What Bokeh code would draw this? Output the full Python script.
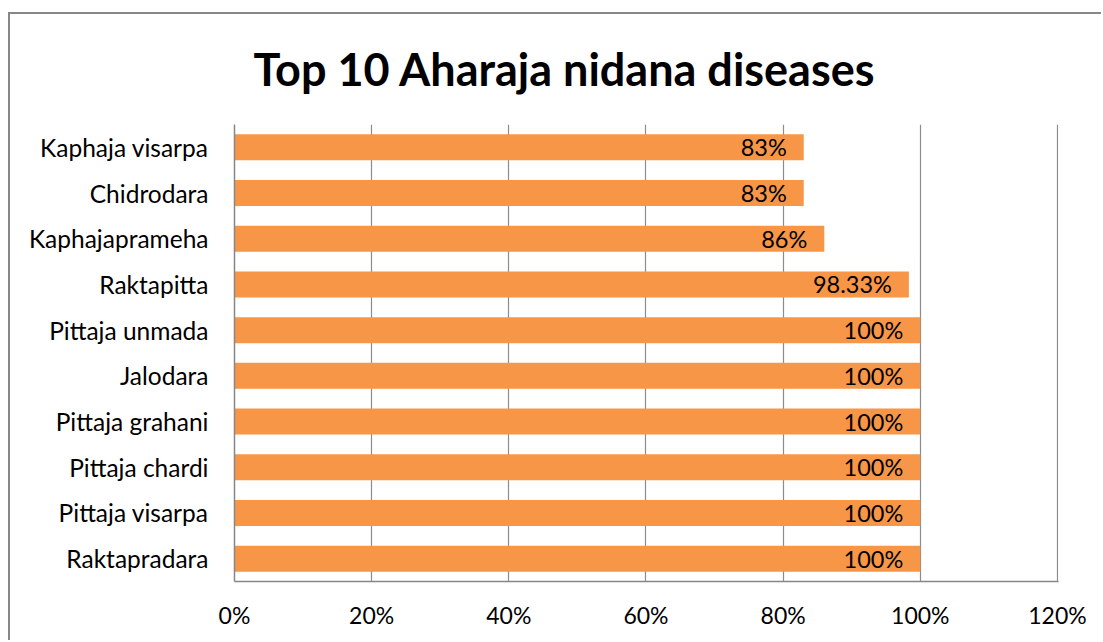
from bokeh.plotting import figure
from bokeh.models import (FactorRange, Range1d, NumeralTickFormatter, FixedTicker,
                          ColumnDataSource, Title)
from bokeh.core.properties import value
from bokeh.embed import file_html
from bokeh.resources import INLINE

# data (top to bottom as displayed)
diseases = ["Kaphaja visarpa", "Chidrodara", "Kaphajaprameha", "Raktapitta",
            "Pittaja unmada", "Jalodara", "Pittaja grahani", "Pittaja chardi",
            "Pittaja visarpa", "Raktapradara"]
shares = [0.83, 0.83, 0.86, 0.9833, 1.0, 1.0, 1.0, 1.0, 1.0, 1.0]
share_labels = ["83%", "83%", "86%", "98.33%", "100%", "100%", "100%", "100%", "100%", "100%"]
x_ticks = [0, 0.2, 0.4, 0.6, 0.8, 1.0, 1.2]
title_text = "Top 10 Aharaja nidana diseases"

FONT = "Lato"

src = ColumnDataSource(dict(cat=diseases, val=shares, lab=share_labels))

p = figure(width=1093, height=628, output_backend="svg", toolbar_location=None,
           y_range=FactorRange(factors=list(reversed(diseases)), range_padding=0),
           x_range=Range1d(0, 1.2015),
           min_border_left=224, min_border_right=45, min_border_top=110,
           min_border_bottom=61)
p.margin = (12, 0, 0, 8)
p.styles = {"border-left": "2px solid #878787", "border-top": "2px solid #878787"}
p.outline_line_color = None
p.background_fill_color = "white"
p.border_fill_color = "white"

p.hbar(y="cat", right="val", left=0, height=0.57, source=src,
       fill_color="#F79646", line_color=None)
p.text(x="val", y="cat", text="lab", source=src, x_offset=-17,
       text_align="right", text_baseline="middle", text_font=value(FONT),
       text_font_size="23.5px", text_color="black")

t = Title(text=title_text, align="left", offset=19, vertical_align="top",
          text_font=FONT, text_font_size="45px", text_font_style="bold",
          text_color="black", standoff=54)
p.add_layout(t, "above")

p.xaxis.ticker = FixedTicker(ticks=x_ticks)
p.xaxis.formatter = NumeralTickFormatter(format="0%")
p.xaxis.major_label_text_font = FONT
p.xaxis.major_label_text_font_size = "23px"
p.xaxis.major_label_text_color = "black"
p.xaxis.major_label_standoff = 13
p.yaxis.major_label_text_font = FONT
p.yaxis.major_label_text_font_size = "24.5px"
p.yaxis.major_label_text_color = "black"
p.yaxis.major_label_standoff = 20
for ax in (p.xaxis, p.yaxis):
    ax.axis_line_color = "#868686"
    ax.axis_line_width = 1.5
    ax.major_tick_line_color = None
    ax.minor_tick_line_color = None

p.xgrid.grid_line_color = "#8c8c8c"
p.xgrid.grid_line_width = 1.2
p.xgrid.ticker = FixedTicker(ticks=x_ticks)
p.ygrid.grid_line_color = None

open("out.html", "w").write(file_html(p, INLINE))
